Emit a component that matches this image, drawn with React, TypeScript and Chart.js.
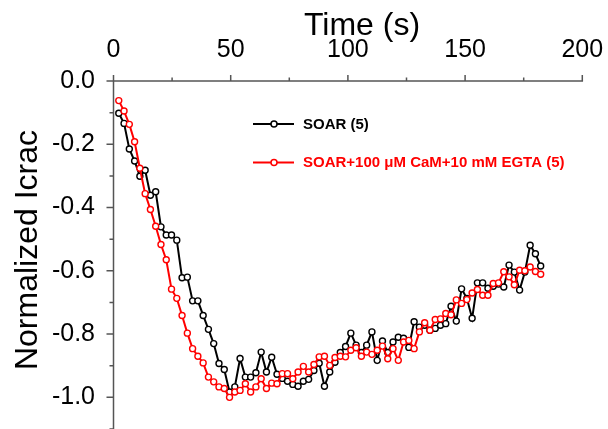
import React, { useEffect, useRef } from "react";
import { Chart, registerables } from "chart.js";

Chart.register(...registerables);

// ---- Data ----
const timeS = [
  2.25, 4.5, 6.75, 9, 11.25, 13.5, 15.75, 18, 20.25, 22.5,
  24.75, 27, 29.25, 31.5, 33.75, 36, 38.25, 40.5, 42.75, 45,
  47.25, 49.5, 51.75, 54, 56.25, 58.5, 60.75, 63, 65.25, 67.5,
  69.75, 72, 74.25, 76.5, 78.75, 81, 83.25, 85.5, 87.75, 90,
  92.25, 94.5, 96.75, 99, 101.25, 103.5, 105.75, 108, 110.25, 112.5,
  114.75, 117, 119.25, 121.5, 123.75, 126, 128.25, 130.5, 132.75, 135,
  137.25, 139.5, 141.75, 144, 146.25, 148.5, 150.75, 153, 155.25, 157.5,
  159.75, 162, 164.25, 166.5, 168.75, 171, 173.25, 175.5, 177.75, 180,
  182.25,
];

const soar = [
  -0.102, -0.134, -0.215, -0.253, -0.301, -0.282, -0.361, -0.35, -0.461, -0.487,
  -0.487, -0.503, -0.622, -0.62, -0.695, -0.695, -0.741, -0.785, -0.83, -0.893,
  -0.912, -0.983, -0.967, -0.877, -0.936, -0.936, -0.922, -0.857, -0.92, -0.873,
  -0.927, -0.94, -0.949, -0.959, -0.965, -0.949, -0.943, -0.915, -0.892, -0.965,
  -0.92, -0.889, -0.858, -0.839, -0.797, -0.835, -0.858, -0.835, -0.793, -0.883,
  -0.822, -0.858, -0.825, -0.81, -0.813, -0.842, -0.761, -0.778, -0.772, -0.788,
  -0.782, -0.772, -0.767, -0.712, -0.759, -0.657, -0.687, -0.75, -0.638, -0.638,
  -0.655, -0.649, -0.642, -0.651, -0.582, -0.604, -0.661, -0.604, -0.519, -0.546,
  -0.585,
];

const soarCaMEgta = [
  -0.062, -0.095, -0.137, -0.192, -0.276, -0.356, -0.406, -0.459, -0.517, -0.565,
  -0.658, -0.687, -0.741, -0.797, -0.846, -0.87, -0.891, -0.936, -0.951, -0.967,
  -0.972, -1.0, -0.983, -0.978, -0.957, -0.983, -0.967, -0.941, -0.972, -0.955,
  -0.957, -0.925, -0.925, -0.941, -0.92, -0.902, -0.92, -0.896, -0.872, -0.87,
  -0.899, -0.874, -0.87, -0.872, -0.851, -0.843, -0.87, -0.857, -0.864, -0.851,
  -0.838, -0.878, -0.846, -0.883, -0.825, -0.82, -0.846, -0.793, -0.764, -0.788,
  -0.754, -0.752, -0.735, -0.739, -0.692, -0.703, -0.691, -0.67, -0.659, -0.677,
  -0.677, -0.64, -0.638, -0.603, -0.619, -0.644, -0.598, -0.6, -0.588, -0.602,
  -0.611,
];

const seriesLabels = ["SOAR (5)", "SOAR+100 \u03bcM CaM+10 mM EGTA (5)"];
const seriesColors = ["#000000", "#ff0000"];
const xMajorTicks = [0, 50, 100, 150, 200];
const yMajorTicks = [0, -0.2, -0.4, -0.6, -0.8, -1.0];
const xTitle = "Time (s)";
const yTitle = "Normalized Icrac";

const FONT = "'Liberation Sans', Arial, Helvetica, sans-serif";
const AXIS_COLOR = "#555555";

const isMajor = (list: number[], v: number) =>
  list.some((m) => Math.abs(m - v) < 1e-6);

const overlayPlugin = {
  id: "overlay",
  afterDraw(chart: any) {
    const ctx: CanvasRenderingContext2D = chart.ctx;
    const xs = chart.scales.x;
    const ys = chart.scales.y;
    const { left, right, top, bottom } = chart.chartArea;
    ctx.save();
    ctx.strokeStyle = AXIS_COLOR;
    ctx.lineWidth = 1.5;
    ctx.beginPath();
    ctx.moveTo(left, top);
    ctx.lineTo(right + 0.75, top);
    ctx.moveTo(left, top);
    ctx.lineTo(left, bottom);
    ctx.stroke();
    // x ticks (outward, upward)
    ctx.beginPath();
    xs.ticks.forEach((t: any) => {
      const p = xs.getPixelForValue(t.value);
      const L = isMajor(xMajorTicks, t.value) ? 6 : 3.5;
      ctx.moveTo(p, top);
      ctx.lineTo(p, top - L);
    });
    // y ticks (outward, left)
    ys.ticks.forEach((t: any) => {
      const p = ys.getPixelForValue(t.value);
      const L = isMajor(yMajorTicks, t.value) ? 7 : 4;
      ctx.moveTo(left, p);
      ctx.lineTo(left - L, p);
    });
    ctx.stroke();

    // titles
    ctx.fillStyle = "#000";
    ctx.textAlign = "center";
    ctx.textBaseline = "alphabetic";
    ctx.font = `32px ${FONT}`;
    ctx.fillText(xTitle, 362, 35);
    ctx.save();
    ctx.translate(37, 250);
    ctx.rotate(-Math.PI / 2);
    ctx.font = `32px ${FONT}`;
    ctx.fillText(yTitle, 0, 0);
    ctx.restore();

    // legend
    const rows = [124, 162.5];
    rows.forEach((y, i) => {
      ctx.strokeStyle = seriesColors[i];
      ctx.lineWidth = 2;
      ctx.beginPath();
      ctx.moveTo(253, y);
      ctx.lineTo(294, y);
      ctx.stroke();
      ctx.beginPath();
      ctx.arc(274, y, 3, 0, Math.PI * 2);
      ctx.fillStyle = "#fff";
      ctx.fill();
      ctx.lineWidth = 1.5;
      ctx.stroke();
      ctx.fillStyle = seriesColors[i];
      ctx.font = `bold 15px ${FONT}`;
      ctx.textAlign = "left";
      ctx.textBaseline = "middle";
      ctx.fillText(seriesLabels[i], 303, y + 0.5);
    });
    ctx.restore();
  },
};

export default function App() {
  const canvasRef = useRef<HTMLCanvasElement | null>(null);

  useEffect(() => {
    document.body.style.margin = "0";
    const canvas = canvasRef.current;
    if (!canvas) return;
    Chart.defaults.font.family = FONT;

    const toPoints = (vals: number[]) =>
      vals.map((v, i) => ({ x: timeS[i], y: v }));

    const common = {
      showLine: true,
      tension: 0,
      borderWidth: 2,
      pointRadius: 3,
      pointBorderWidth: 1.4,
      pointBackgroundColor: "#ffffff",
      clip: false as const,
    };

    const chart = new Chart(canvas, {
      type: "scatter",
      data: {
        datasets: [
          {
            ...common,
            label: seriesLabels[0],
            data: toPoints(soar),
            borderColor: seriesColors[0],
            pointBorderColor: seriesColors[0],
            order: 2,
          },
          {
            ...common,
            label: seriesLabels[1],
            data: toPoints(soarCaMEgta),
            borderColor: seriesColors[1],
            pointBorderColor: seriesColors[1],
            order: 1,
          },
        ],
      },
      options: {
        responsive: false,
        animation: false,
        layout: {
          autoPadding: false,
          padding: { left: 0, right: 25.7, top: 0, bottom: 0 },
        },
        plugins: {
          legend: { display: false },
          tooltip: { enabled: false },
          title: { display: false },
        },
        scales: {
          x: {
            type: "linear",
            position: "top",
            min: 0,
            max: 200,
            grid: { display: false },
            border: { display: false },
            ticks: {
              stepSize: 25,
              autoSkip: false,
              maxRotation: 0,
              padding: 8,
              color: "#000",
              font: { size: 25 },
              callback: (v: any) =>
                isMajor(xMajorTicks, Number(v)) ? String(v) : "",
            },
            afterFit: (s: any) => {
              s.height = 81;
              s.paddingLeft = 0;
              s.paddingRight = 0;
            },
          },
          y: {
            type: "linear",
            min: -1.1,
            max: 0,
            grid: { display: false },
            border: { display: false },
            ticks: {
              stepSize: 0.1,
              autoSkip: false,
              padding: 10.5,
              color: "#000",
              font: { size: 25 },
              callback: (v: any) =>
                isMajor(yMajorTicks, Number(v)) ? Number(v).toFixed(1) : "",
            },
            afterFit: (s: any) => {
              s.width = 113.5;
              s.paddingTop = 0;
              s.paddingBottom = 0;
            },
          },
        },
      },
      plugins: [overlayPlugin],
    });

    return () => chart.destroy();
  }, []);

  return (
    <div style={{ width: 608, height: 429, position: "relative" }}>
      <canvas
        ref={canvasRef}
        width={608}
        height={429}
        style={{ display: "block", width: 608, height: 429 }}
      />
    </div>
  );
}
